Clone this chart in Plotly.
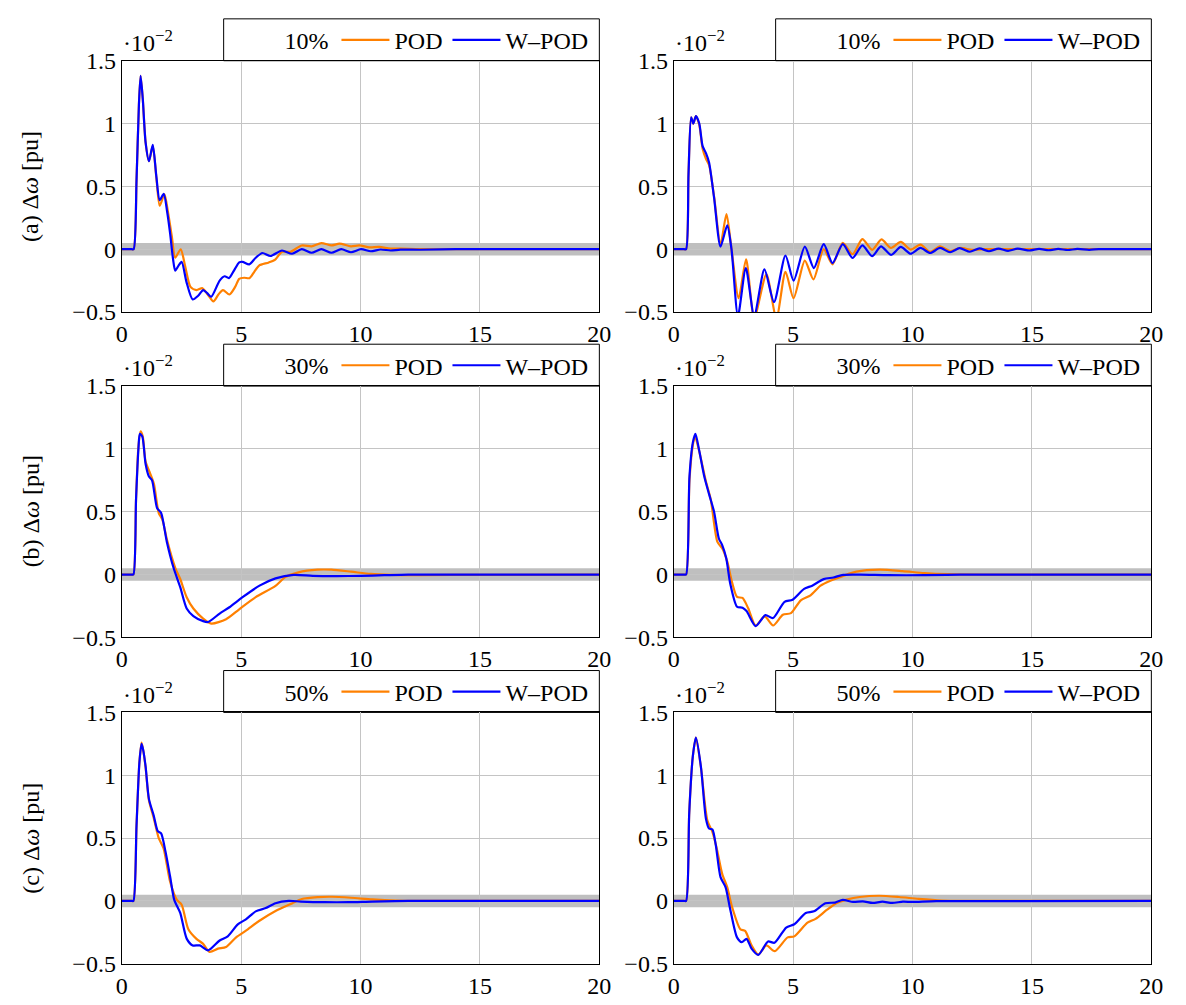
import plotly.graph_objects as go

# ---------------- data (values in units of 1e-2 pu) ----------------
labels = ["10%", "30%", "50%"]
row_titles = ["(a) Δ<i>ω</i> [pu]", "(b) Δ<i>ω</i> [pu]", "(c) Δ<i>ω</i> [pu]"]
x_ticks = [0, 5, 10, 15, 20]
y_ticks = [-0.5, 0, 0.5, 1, 1.5]
y_ticktext = ["−0.5", "0", "0.5", "1", "1.5"]

# Row 1, left
t1L_pod = [0, 0.25, 0.42, 0.5, 0.62, 0.72, 0.79, 0.88, 1.0, 1.14, 1.30, 1.45, 1.59, 1.79, 1.95, 2.1, 2.24, 2.47, 2.65, 2.88, 3.13, 3.38, 3.6, 3.84, 4.05, 4.24, 4.51, 4.75, 4.92, 5.13, 5.35, 5.55, 5.75, 6.16, 6.44, 6.71, 7.06, 7.54, 7.95, 8.36, 8.78, 9.12, 9.6, 9.95, 10.37, 10.78, 11.26, 11.7, 12.5, 14, 20]
v1L_pod = [0, 0, 0, 0, 0.55, 1.15, 1.38, 1.2, 0.85, 0.70, 0.82, 0.57, 0.346, 0.436, 0.28, 0.1, -0.067, 0.0, -0.13, -0.30, -0.325, -0.31, -0.36, -0.415, -0.36, -0.325, -0.36, -0.3, -0.235, -0.227, -0.23, -0.18, -0.13, -0.105, -0.08, -0.02, -0.021, 0.03, 0.023, 0.049, 0.03, 0.044, 0.023, 0.03, 0.015, 0.018, 0.005, 0.004, 0, 0, 0]
t1L_wpod = [0, 0.25, 0.42, 0.5, 0.62, 0.72, 0.79, 0.88, 1.0, 1.14, 1.30, 1.45, 1.59, 1.76, 1.9, 2.03, 2.15, 2.24, 2.38, 2.51, 2.71, 2.97, 3.2, 3.41, 3.58, 3.75, 4.1, 4.31, 4.49, 4.7, 4.92, 5.06, 5.34, 5.6, 5.89, 6.23, 6.71, 7.13, 7.54, 7.95, 8.36, 8.78, 9.19, 9.6, 10.02, 10.43, 10.84, 11.26, 11.67, 12.5, 14, 20]
v1L_wpod = [0, 0, 0, 0, 0.55, 1.15, 1.38, 1.2, 0.85, 0.70, 0.83, 0.58, 0.39, 0.44, 0.3, 0.12, -0.08, -0.17, -0.13, -0.10, -0.26, -0.40, -0.37, -0.325, -0.35, -0.378, -0.25, -0.215, -0.23, -0.17, -0.105, -0.1, -0.12, -0.07, -0.03, -0.054, -0.01, -0.036, 0.0, -0.028, 0.0, -0.028, 0.0, -0.024, 0.0, -0.016, -0.002, -0.01, -0.003, -0.004, 0, 0]

# Row 1, right
t1R_pod = [0, 0.25, 0.44, 0.52, 0.62, 0.73, 0.82, 0.93, 1.07, 1.21, 1.35, 1.48, 1.69, 1.96, 2.21, 2.42, 2.72, 3.03, 3.37, 3.88, 4.3, 4.68, 5.02, 5.49, 5.85, 6.28, 6.65, 7.08, 7.49, 7.9, 8.31, 8.70, 9.1, 9.51, 9.92, 10.33, 10.74, 11.15, 11.57, 11.97, 12.5, 13, 20]
v1R_pod = [0, 0, 0, 0, 0.6, 1.05, 1.0, 1.06, 0.99, 0.8, 0.72, 0.67, 0.42, 0.04, 0.28, 0.0, -0.39, -0.08, -0.55, -0.2, -0.55, -0.18, -0.39, -0.09, -0.24, 0.0, -0.12, 0.05, -0.04, 0.08, -0.005, 0.078, 0.01, 0.058, -0.003, 0.036, -0.02, 0.023, -0.015, 0.01, -0.005, 0, 0]
t1R_wpod = [0, 0.25, 0.44, 0.52, 0.62, 0.73, 0.82, 0.93, 1.07, 1.21, 1.35, 1.48, 1.69, 1.96, 2.24, 2.42, 2.69, 3.02, 3.37, 3.8, 4.2, 4.68, 5.02, 5.49, 5.87, 6.28, 6.65, 7.08, 7.49, 7.9, 8.31, 8.68, 9.1, 9.51, 9.92, 10.33, 10.74, 11.15, 11.57, 11.97, 12.4, 12.8, 13.2, 13.6, 14.0, 14.4, 14.9, 15.3, 15.7, 16.1, 16.5, 16.9, 17.4, 17.8, 18.5, 20]
v1R_wpod = [0, 0, 0, 0, 0.6, 1.05, 1.0, 1.06, 1.0, 0.82, 0.765, 0.69, 0.41, 0.02, 0.19, 0.0, -0.53, -0.15, -0.53, -0.16, -0.42, -0.05, -0.25, 0.02, -0.15, 0.04, -0.11, 0.04, -0.07, 0.03, -0.055, 0.023, -0.045, 0.018, -0.036, 0.01, -0.03, 0.01, -0.024, 0.008, -0.02, 0.006, -0.016, 0.005, -0.013, 0.004, -0.01, 0.003, -0.008, 0.002, -0.006, 0.002, -0.005, 0.001, 0, 0]

# Row 2, left
t2L_pod = [0, 0.25, 0.42, 0.49, 0.6, 0.7, 0.79, 0.88, 1.0, 1.2, 1.35, 1.55, 1.7, 1.89, 2.24, 2.45, 2.72, 3.0, 3.41, 3.75, 4.37, 4.92, 5.61, 6.44, 6.85, 7.4, 8.2, 8.78, 9.6, 10.43, 11.26, 12.5, 15, 20]
v2L_pod = [0, 0, 0, 0, 0.6, 1.02, 1.14, 1.1, 0.9, 0.8, 0.72, 0.49, 0.44, 0.28, 0.054, -0.035, -0.18, -0.27, -0.35, -0.39, -0.355, -0.276, -0.18, -0.09, -0.02, 0.018, 0.039, 0.039, 0.023, 0.005, -0.002, -0.004, -0.002, 0]
t2L_wpod = [0, 0.25, 0.42, 0.49, 0.6, 0.7, 0.76, 0.86, 1.0, 1.14, 1.27, 1.48, 1.65, 1.89, 2.17, 2.45, 2.72, 3.0, 3.41, 3.62, 4.1, 4.51, 5.06, 5.77, 6.44, 7.2, 8, 9, 10, 11, 12, 20]
v2L_wpod = [0, 0, 0, 0, 0.6, 1.0, 1.12, 1.1, 0.88, 0.78, 0.75, 0.53, 0.49, 0.26, 0.054, -0.1, -0.27, -0.33, -0.37, -0.377, -0.31, -0.26, -0.18, -0.088, -0.03, -0.002, -0.01, -0.012, -0.01, -0.005, 0, 0]

# Row 2, right
t2R_pod = [0, 0.25, 0.44, 0.52, 0.66, 0.8, 0.89, 1.07, 1.35, 1.55, 1.83, 2.03, 2.24, 2.44, 2.65, 2.88, 3.12, 3.43, 3.81, 4.16, 4.57, 4.91, 5.32, 5.73, 6.15, 6.56, 7.1, 7.65, 8.62, 9.58, 10.5, 11.5, 13, 20]
v2R_pod = [0, 0, 0, 0, 0.75, 1.03, 1.1, 0.98, 0.74, 0.6, 0.26, 0.21, 0.105, -0.06, -0.178, -0.186, -0.268, -0.405, -0.333, -0.405, -0.32, -0.307, -0.205, -0.165, -0.088, -0.049, -0.01, 0.023, 0.039, 0.028, 0.012, 0.003, 0, 0]
t2R_wpod = [0, 0.25, 0.44, 0.52, 0.66, 0.8, 0.91, 1.07, 1.28, 1.48, 1.69, 1.89, 2.03, 2.2, 2.37, 2.65, 2.88, 3.05, 3.43, 3.84, 4.16, 4.64, 4.98, 5.46, 5.8, 6.28, 6.69, 7.1, 7.8, 9, 10.5, 12, 20]
v2R_wpod = [0, 0, 0, 0, 0.78, 1.05, 1.12, 0.985, 0.78, 0.64, 0.5, 0.287, 0.235, 0.13, -0.075, -0.256, -0.264, -0.29, -0.41, -0.323, -0.346, -0.217, -0.2, -0.114, -0.088, -0.036, -0.023, -0.002, 0, -0.005, -0.005, 0, 0]

# Row 3, left
t3L_pod = [0, 0.25, 0.42, 0.49, 0.62, 0.74, 0.83, 0.9, 1.0, 1.14, 1.34, 1.55, 1.75, 2.03, 2.31, 2.51, 2.79, 3.13, 3.4, 3.68, 4.03, 4.37, 4.79, 5.2, 5.75, 6.44, 7.13, 7.54, 8.2, 8.8, 9.6, 10.5, 11.5, 13, 20]
v3L_pod = [0, 0, 0, 0, 0.6, 1.1, 1.26, 1.2, 1.06, 0.8, 0.66, 0.5, 0.42, 0.15, 0.008, -0.03, -0.225, -0.302, -0.34, -0.405, -0.38, -0.367, -0.29, -0.237, -0.16, -0.08, -0.02, 0.015, 0.03, 0.033, 0.025, 0.012, 0.003, 0, 0]
t3L_wpod = [0, 0.25, 0.42, 0.49, 0.62, 0.74, 0.83, 0.9, 1.0, 1.14, 1.34, 1.51, 1.65, 1.83, 2.03, 2.2, 2.45, 2.72, 2.97, 3.27, 3.62, 4.1, 4.44, 4.86, 5.2, 5.61, 6.03, 6.44, 6.99, 7.5, 8.5, 9.5, 10.5, 12, 20]
v3L_wpod = [0, 0, 0, 0, 0.6, 1.1, 1.25, 1.2, 1.07, 0.81, 0.68, 0.555, 0.537, 0.395, 0.19, 0.008, -0.095, -0.3, -0.354, -0.354, -0.393, -0.315, -0.282, -0.186, -0.147, -0.083, -0.057, -0.018, 0.0, -0.005, -0.01, -0.01, -0.005, 0, 0]

# Row 3, right
t3R_pod = [0, 0.25, 0.44, 0.52, 0.65, 0.8, 0.93, 1.14, 1.41, 1.62, 1.8, 2.03, 2.24, 2.44, 2.79, 2.99, 3.26, 3.54, 3.88, 4.23, 4.77, 5.05, 5.6, 5.94, 6.42, 6.83, 7.24, 7.79, 8.6, 9.43, 10.25, 11.21, 12.5, 20]
v3R_pod = [0, 0, 0, 0, 0.7, 1.15, 1.30, 1.06, 0.64, 0.55, 0.42, 0.215, 0.11, -0.045, -0.225, -0.238, -0.354, -0.427, -0.354, -0.4, -0.29, -0.282, -0.173, -0.143, -0.07, -0.016, 0.01, 0.031, 0.041, 0.031, 0.016, 0.003, 0, 0]
t3R_wpod = [0, 0.25, 0.44, 0.52, 0.65, 0.8, 0.93, 1.14, 1.35, 1.48, 1.62, 1.76, 1.96, 2.17, 2.37, 2.65, 2.85, 3.05, 3.26, 3.54, 3.95, 4.22, 4.71, 5.05, 5.53, 5.87, 6.35, 6.76, 7.08, 7.51, 7.92, 8.33, 8.74, 9.15, 9.6, 10, 11, 20]
v3R_wpod = [0, 0, 0, 0, 0.7, 1.15, 1.30, 1.067, 0.654, 0.576, 0.568, 0.447, 0.189, 0.11, -0.07, -0.29, -0.328, -0.302, -0.38, -0.43, -0.323, -0.333, -0.212, -0.186, -0.096, -0.083, -0.018, -0.013, 0.008, -0.008, -0.003, -0.016, -0.006, -0.016, -0.006, -0.008, -0.002, 0]

band_half_width = 0.05

panels = [
    (t1L_pod, v1L_pod, t1L_wpod, v1L_wpod),
    (t1R_pod, v1R_pod, t1R_wpod, v1R_wpod),
    (t2L_pod, v2L_pod, t2L_wpod, v2L_wpod),
    (t2R_pod, v2R_pod, t2R_wpod, v2R_wpod),
    (t3L_pod, v3L_pod, t3L_wpod, v3L_wpod),
    (t3R_pod, v3R_pod, t3R_wpod, v3R_wpod),
]

# ---------------- layout geometry (window pixels) ----------------
W, H = 1186, 1005
FONT = "Liberation Serif"
FS = 24
ORANGE = "#ff8000"
BLUE = "#0000ff"

col_px = [(117.5, 602.5), (678.0, 1163.0)]
row_px = [(49, 307), (383, 641), (718, 976)]

def px2x(p):
    return p / W

def px2y(p):
    return 1 - p / H

fig = go.Figure()
shapes = []
annotations = []
layout_axes = {}

for i, (tp, vp, tw, vw) in enumerate(panels):
    r, c = divmod(i, 2)
    n = i + 1
    xa = "x" if n == 1 else f"x{n}"
    ya = "y" if n == 1 else f"y{n}"
    lg = "legend" if n == 1 else f"legend{n}"
    fig.add_trace(go.Scatter(x=tp, y=vp, mode="lines", name="POD",
                             line=dict(color=ORANGE, width=2.2, shape="spline", smoothing=0.7),
                             xaxis=xa, yaxis=ya, legend=lg))
    fig.add_trace(go.Scatter(x=tw, y=vw, mode="lines", name="W–POD",
                             line=dict(color=BLUE, width=2.2, shape="spline", smoothing=0.7),
                             xaxis=xa, yaxis=ya, legend=lg))
    x0, x1 = col_px[c]
    y0, y1 = row_px[r]
    axis_common = dict(showline=True, mirror=True, linecolor="black", linewidth=1,
                       showgrid=True, gridcolor="#c4c4c4", gridwidth=1, zeroline=False,
                       ticks="", tickfont=dict(family=FONT, size=FS, color="black"))
    layout_axes["xaxis" if n == 1 else f"xaxis{n}"] = dict(
        domain=[px2x(x0), px2x(x1)], range=[0, 20], tickvals=x_ticks,
        anchor=ya, **axis_common)
    layout_axes["yaxis" if n == 1 else f"yaxis{n}"] = dict(
        domain=[px2y(y1), px2y(y0)], range=[-0.5, 1.5], tickvals=y_ticks,
        ticktext=y_ticktext, anchor=xa, **axis_common)
    # grey tolerance band
    shapes.append(dict(type="rect", xref=xa, yref=ya, x0=0, x1=20,
                       y0=-band_half_width, y1=band_half_width,
                       fillcolor="#bfbfbf", line=dict(width=0), layer="below"))
    # legend box
    bx0 = x0 + 103.5
    shapes.append(dict(type="rect", xref="paper", yref="paper",
                       x0=px2x(bx0), x1=px2x(x1), y0=px2y(y0), y1=px2y(y0 - 43),
                       fillcolor="white", line=dict(color="black", width=1), layer="below"))
    layout_axes[lg] = dict(orientation="h", x=px2x(x1 - 6), xanchor="right",
                           y=px2y(y0 - 21), yanchor="middle",
                           bgcolor="rgba(0,0,0,0)", borderwidth=0,
                           font=dict(family=FONT, size=FS, color="black"),
                           title=dict(text=labels[r], side="left",
                                      font=dict(family=FONT, size=FS, color="black")),
                           itemwidth=48, tracegroupgap=0)
    # exponent marker
    annotations.append(dict(text="·10<sup>−2</sup>", xref="paper", yref="paper",
                            x=px2x(x0 - 1), y=px2y(y0 - 3), xanchor="left", yanchor="bottom",
                            showarrow=False, font=dict(family=FONT, size=FS, color="black")))
    if c == 0:
        annotations.append(dict(text=row_titles[r], xref="paper", yref="paper",
                                x=px2x(25), y=px2y((y0 + y1) / 2), textangle=-90,
                                xanchor="center", yanchor="middle", showarrow=False,
                                font=dict(family=FONT, size=FS, color="black")))

fig.update_layout(width=W, height=H, margin=dict(l=0, r=0, t=0, b=0),
                  paper_bgcolor="white", plot_bgcolor="white",
                  shapes=shapes, annotations=annotations, **layout_axes)

fig.write_html("out.html")
